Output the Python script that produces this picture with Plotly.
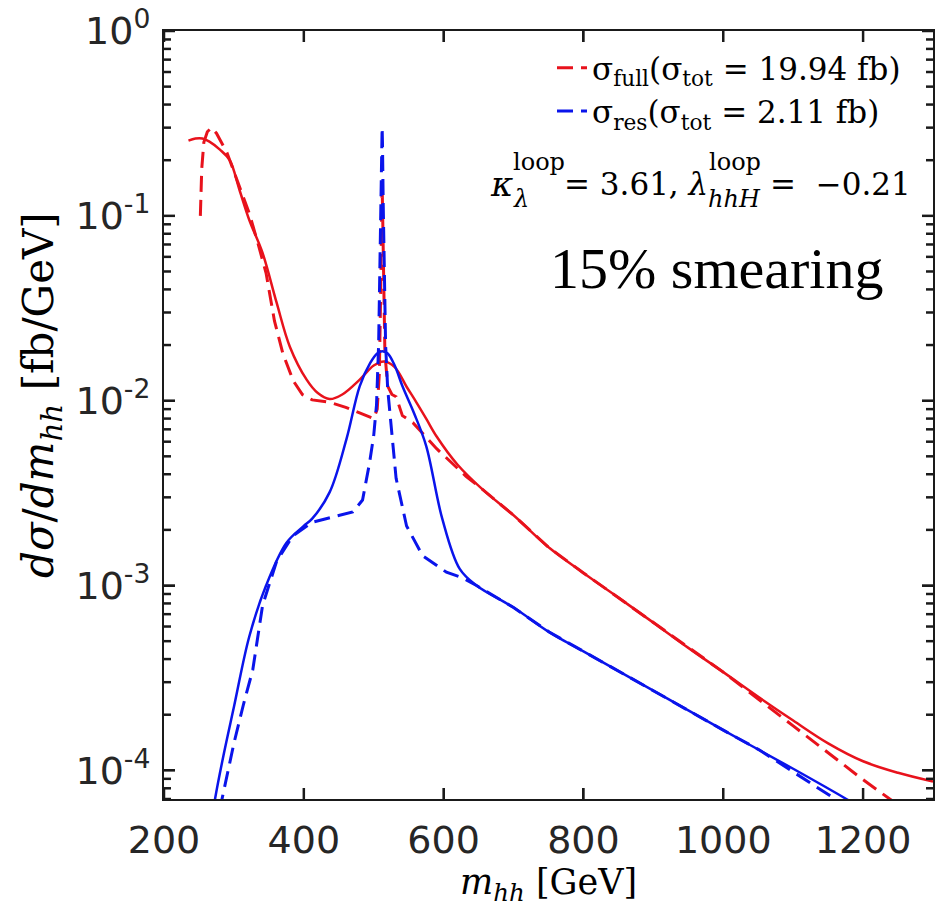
import math
import plotly.graph_objects as go

# ---------------- data ----------------
red_solid_m = [235, 245, 255, 265, 280, 294, 308, 322, 341, 361, 380, 404, 420, 437, 455, 480,
               500, 515, 530, 547, 561, 575, 590, 620, 656, 700, 751, 800, 850, 900, 950, 1000,
               1050, 1100, 1150, 1200, 1250, 1300]
red_solid_v = [0.255, 0.262, 0.262, 0.252, 0.228, 0.20, 0.138, 0.095, 0.063, 0.034, 0.0196, 0.013,
               0.011, 0.0102, 0.0108, 0.013, 0.0155, 0.0163, 0.0152, 0.0119, 0.0098, 0.008, 0.0064,
               0.0045, 0.0033, 0.0024, 0.0016, 0.00117, 0.00086, 0.00063, 0.00046, 0.00034,
               0.00025, 0.000186, 0.000140, 0.000112, 0.000097, 0.000087]

red_dash_m = [252, 254, 257, 262, 268, 275, 290, 306, 322, 334, 346, 358, 370, 385, 398, 412, 437,
              460, 480, 500, 505, 508, 510, 511, 512, 513, 514, 516, 520, 526, 532, 541, 556, 590,
              632, 656, 700, 751, 800, 900, 1000, 1100, 1200, 1250]
red_dash_v = [0.1, 0.18, 0.25, 0.285, 0.30, 0.28, 0.22, 0.15, 0.103, 0.072, 0.049, 0.027, 0.018,
              0.0128, 0.0108, 0.0101, 0.0098, 0.0092, 0.0086, 0.008, 0.009, 0.014, 0.04, 0.09,
              0.15, 0.09, 0.04, 0.018, 0.012, 0.0108, 0.0105, 0.0083, 0.0076, 0.0055, 0.0039,
              0.0033, 0.0024, 0.0016, 0.00117, 0.00063, 0.00034, 0.000174, 0.000089, 0.000065]

blue_solid_m = [265, 273, 285, 300, 322, 346, 375, 400, 412, 437, 461, 480, 495, 505, 512, 520,
                530, 541, 558, 575, 598, 623, 647, 700, 751, 800, 900, 1000, 1100, 1176, 1190]
blue_solid_v = [4.5e-5, 7e-5, 1.2e-4, 2.2e-4, 5.3e-4, 1.0e-3, 1.7e-3, 2.1e-3, 2.3e-3, 3.2e-3,
                6.2e-3, 0.012, 0.016, 0.018, 0.0185, 0.018, 0.0155, 0.012, 0.0085, 0.0057, 0.0023,
                0.00123, 0.001, 7.6e-4, 5.6e-4, 4.4e-4, 2.7e-4, 1.65e-4, 1.02e-4, 7e-5, 6.5e-5]

blue_dash_m = [278, 283, 300, 314, 327, 341, 361, 384, 412, 441, 470, 484, 494, 500, 504, 507, 509,
               510.5, 511.5, 512, 512.5, 513.5, 515, 517, 520, 523, 532, 547, 570, 604, 627, 647,
               700, 751, 800, 900, 1000, 1050, 1100, 1130, 1160, 1170]
blue_dash_v = [4.5e-5, 7e-5, 1.4e-4, 2.3e-4, 3.5e-4, 7.8e-4, 1.35e-3, 1.85e-3, 2.2e-3, 2.35e-3,
               2.5e-3, 2.9e-3, 4.6e-3, 6.5e-3, 9.5e-3, 0.02, 0.05, 0.12, 0.25, 0.30, 0.25, 0.12,
               0.05, 0.02, 0.0115, 0.0085, 3.8e-3, 2.1e-3, 1.45e-3, 1.18e-3, 1.1e-3, 1.0e-3, 7.6e-4,
               5.6e-4, 4.4e-4, 2.7e-4, 1.65e-4, 1.3e-4, 9.8e-5, 8.3e-5, 7e-5, 6.5e-5]

x_ticks = [200, 400, 600, 800, 1000, 1200]
y_ticks = [1e-4, 1e-3, 1e-2, 1e-1, 1]
y_tick_text = ["10<sup>-4</sup>", "10<sup>-3</sup>", "10<sup>-2</sup>", "10<sup>-1</sup>", "10<sup>0</sup>"]

legend_full = "σ<sub>full</sub>(σ<sub>tot</sub> = 19.94 fb)"
legend_res = "σ<sub>res</sub>(σ<sub>tot</sub> = 2.11 fb)"

# ---------------- figure ----------------
RED = "rgb(232,18,28)"
BLUE = "rgb(10,20,235)"
DASH = "16px,8px"
X_RANGE = [200, 1300]
Y_MIN = 7e-5
Y_RANGE = [math.log10(Y_MIN), 0]
y_minor_ticks = [d * 10.0 ** e for e in range(-5, 0) for d in range(2, 10)
                 if Y_MIN <= d * 10.0 ** e <= 1]

L, R, T, B = 164, 2, 31, 110
W, H = 935, 909
PW, PH = W - L - R, H - T - B

fig = go.Figure()
fig.add_trace(go.Scatter(x=red_solid_m, y=red_solid_v, mode="lines", showlegend=False,
                         line=dict(color=RED, width=2.5, shape="spline")))
fig.add_trace(go.Scatter(x=red_dash_m, y=red_dash_v, mode="lines", name=legend_full,
                         line=dict(color=RED, width=3, dash=DASH)))
fig.add_trace(go.Scatter(x=blue_solid_m, y=blue_solid_v, mode="lines", showlegend=False,
                         line=dict(color=BLUE, width=2.5, shape="spline")))
fig.add_trace(go.Scatter(x=blue_dash_m, y=blue_dash_v, mode="lines", name=legend_res,
                         line=dict(color=BLUE, width=3, dash=DASH)))

# inside tick marks on all four sides, built from the tick arrays as one line trace
AX = "#1a1a1a"
MAJOR_PX, MINOR_PX = 11, 7
dx_major = MAJOR_PX / PW * (X_RANGE[1] - X_RANGE[0])
dx_minor = MINOR_PX / PW * (X_RANGE[1] - X_RANGE[0])
dlog = MAJOR_PX / PH * (Y_RANGE[1] - Y_RANGE[0])
tx, ty = [], []
for xv in x_ticks:
    tx += [xv, xv, None, xv, xv, None]
    ty += [10 ** Y_RANGE[0], 10 ** (Y_RANGE[0] + dlog), None,
           10 ** Y_RANGE[1], 10 ** (Y_RANGE[1] - dlog), None]
for vals, dxl in ((y_ticks, dx_major), (y_minor_ticks, dx_minor)):
    for yv in vals:
        tx += [X_RANGE[0], X_RANGE[0] + dxl, None, X_RANGE[1], X_RANGE[1] - dxl, None]
        ty += [yv, yv, None, yv, yv, None]
fig.add_trace(go.Scatter(x=tx, y=ty, mode="lines", showlegend=False, hoverinfo="skip",
                         line=dict(color=AX, width=2.5), connectgaps=False))


def px(xp):
    return (xp - L) / PW


def py(yp):
    return 1 - (yp - T) / PH


fig.update_layout(
    template="none",
    width=W, height=H,
    margin=dict(l=L, r=R, t=T, b=B, pad=0),
    paper_bgcolor="white", plot_bgcolor="white",
    font=dict(family="DejaVu Sans", color="#262626"),
    legend=dict(x=px(552), y=py(41), xanchor="left", yanchor="top",
                bgcolor="rgba(0,0,0,0)", borderwidth=0,
                font=dict(family="DejaVu Serif", size=31, color="black"),
                tracegroupgap=0),
    xaxis=dict(range=X_RANGE, tickmode="array", tickvals=x_ticks, ticks="inside", ticklen=MAJOR_PX,
               tickwidth=2, tickcolor=AX, showline=True, linecolor=AX, linewidth=2,
               mirror="ticks", showgrid=False, zeroline=False,
               tickfont=dict(size=38, color="#262626"), ticklabelstandoff=6),
    yaxis=dict(type="log", range=Y_RANGE, tickmode="array", tickvals=y_ticks,
               ticktext=y_tick_text, ticks="inside", ticklen=MAJOR_PX, tickwidth=2, tickcolor=AX,
               showline=True, linecolor=AX, linewidth=2, mirror="ticks", showgrid=False,
               zeroline=False, tickfont=dict(size=38, color="#262626"), ticklabelstandoff=4),
)

SERIF = "DejaVu Serif"
ann = [
    # axis titles
    dict(text="<i>m</i><sub><i>hh</i></sub> [GeV]", x=px(548), y=py(884), font=dict(size=35),
         xanchor="center", yanchor="middle"),
    dict(text="<i>dσ</i>/<i>dm</i><sub><i>hh</i></sub> [fb/GeV]", x=px(42), y=py(395),
         textangle=-90, font=dict(size=42), xanchor="center", yanchor="middle"),
    # kappa annotation, built in pieces so super/subscripts stack
    dict(text="<i>κ</i>", x=px(488), y=py(184), font=dict(size=34), xanchor="left", yanchor="middle"),
    dict(text="loop", x=px(511), y=py(162), font=dict(size=24), xanchor="left", yanchor="middle"),
    dict(text="<i>λ</i>", x=px(511), y=py(199), font=dict(size=24), xanchor="left", yanchor="middle"),
    dict(text="= 3.61, <i>λ</i>", x=px(562), y=py(184), font=dict(size=31), xanchor="left", yanchor="middle"),
    dict(text="loop", x=px(707), y=py(162), font=dict(size=24), xanchor="left", yanchor="middle"),
    dict(text="<i>hhH</i>", x=px(706), y=py(199), font=dict(size=24), xanchor="left", yanchor="middle"),
    dict(text="=  −0.21", x=px(768), y=py(184), font=dict(size=31), xanchor="left", yanchor="middle"),
]
for a in ann:
    a.setdefault("showarrow", False)
    a["xref"] = "paper"
    a["yref"] = "paper"
    a["font"] = dict(family=SERIF, color="black", **a["font"])
    fig.add_annotation(**a)

fig.add_annotation(text="15% smearing", x=px(716), y=py(268), xref="paper", yref="paper",
                   showarrow=False, xanchor="center", yanchor="middle",
                   font=dict(family="Liberation Serif", size=58, color="black"))

fig.write_html("out.html")
